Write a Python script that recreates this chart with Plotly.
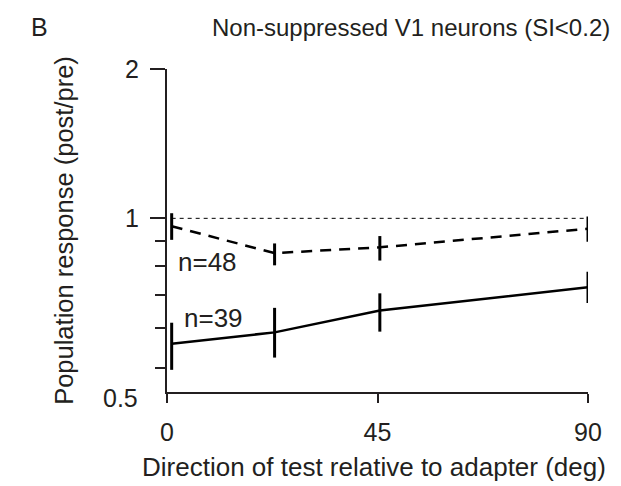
import numpy as np
import plotly.graph_objects as go

# Data
directions = [1, 23, 45.5, 90]          # deg, direction of test relative to adapter
nonsupp_48 = [0.964, 0.851, 0.874, 0.953]   # dashed, n=48
nonsupp_48_hi = [1.024, 0.890, 0.921, 1.009]
nonsupp_48_lo = [0.905, 0.804, 0.822, 0.897]
nonsupp_39 = [0.559, 0.589, 0.652, 0.726]   # solid, n=39
nonsupp_39_hi = [0.616, 0.660, 0.706, 0.780]
nonsupp_39_lo = [0.495, 0.524, 0.591, 0.675]
x_ticks = [0, 45, 90]
y_major = [1, 2]
y_minor = [0.5, 0.6, 0.7, 0.8, 0.9]
y_bottom = 0.4466
y_top = 2

INK = "#231f20"
FONT = "Liberation Sans, Arial, sans-serif"

def err(center, hi, lo):
    c = np.array(center); h = np.array(hi); l = np.array(lo)
    return dict(type="data", symmetric=False, array=(h - c).tolist(),
                arrayminus=(c - l).tolist(), width=0, thickness=3, color="black")

fig = go.Figure()
fig.add_trace(go.Scatter(x=directions, y=nonsupp_48, mode="lines",
                         line=dict(color="black", width=2.5, dash="11px,8px"),
                         error_y=err(nonsupp_48, nonsupp_48_hi, nonsupp_48_lo),
                         cliponaxis=False, showlegend=False))
fig.add_trace(go.Scatter(x=directions, y=nonsupp_39, mode="lines",
                         line=dict(color="black", width=2.5),
                         error_y=err(nonsupp_39, nonsupp_39_hi, nonsupp_39_lo),
                         cliponaxis=False, showlegend=False))

# reference line at 1
fig.add_shape(type="line", xref="x", yref="y", x0=directions[0], x1=90, y0=1, y1=1,
              line=dict(color="black", width=1, dash="4px,4px"))

# page body has an 8px default margin, so the figure is 8px smaller than the window
fig.update_layout(
    width=613, height=478,
    margin=dict(l=159, r=33, t=61, b=94),
    paper_bgcolor="white", plot_bgcolor="white",
    font=dict(family=FONT, size=25, color=INK),
    xaxis=dict(range=[0, 90], tickvals=x_ticks, ticks="outside", ticklen=9,
               tickwidth=2, tickcolor=INK, showline=True, linewidth=2, linecolor=INK,
               showgrid=False, zeroline=False, tickfont=dict(size=25),
               ticklabelstandoff=8),
    yaxis=dict(type="log", range=[np.log10(y_bottom), np.log10(y_top)],
               tickvals=y_major, ticktext=["1", "2"], ticks="outside", ticklen=15,
               tickwidth=2, tickcolor=INK, showline=True, linewidth=2, linecolor=INK,
               showgrid=False, zeroline=False, tickfont=dict(size=25),
               ticklabelstandoff=6,
               minor=dict(tickvals=y_minor, ticks="outside", ticklen=10,
                          tickwidth=2, tickcolor=INK, showgrid=False),
               title=dict(text="Population response (post/pre)",
                          font=dict(size=25.5), standoff=44)),
    annotations=[
        dict(text="0.5", xref="paper", yref="paper", x=0, y=0, xanchor="right",
             yanchor="middle", xshift=-27, yshift=-6, showarrow=False,
             font=dict(size=25, color=INK)),
        dict(text="Direction of test relative to adapter (deg)", xref="paper",
             yref="paper", x=0.492, y=0, xanchor="center", yanchor="middle",
             yshift=-75, showarrow=False, font=dict(size=26, color=INK)),
        dict(text="B", xref="paper", yref="paper", x=-0.327, y=1, xanchor="left",
             yanchor="bottom", yshift=26, showarrow=False, font=dict(size=25, color=INK)),
        dict(text="Non-suppressed V1 neurons (SI<0.2)", xref="paper", yref="paper",
             x=1.057, y=1, xanchor="right", yanchor="bottom", yshift=26, showarrow=False,
             font=dict(size=24, color=INK)),
        dict(text="n=48", xref="x", yref="y", x=2.0, y=np.log10(0.818), xanchor="left",
             yanchor="middle", showarrow=False, font=dict(size=26, color=INK)),
        dict(text="n=39", xref="x", yref="y", x=3.3, y=np.log10(0.630), xanchor="left",
             yanchor="middle", showarrow=False, font=dict(size=26, color=INK)),
    ],
)

fig.write_html("out.html")
